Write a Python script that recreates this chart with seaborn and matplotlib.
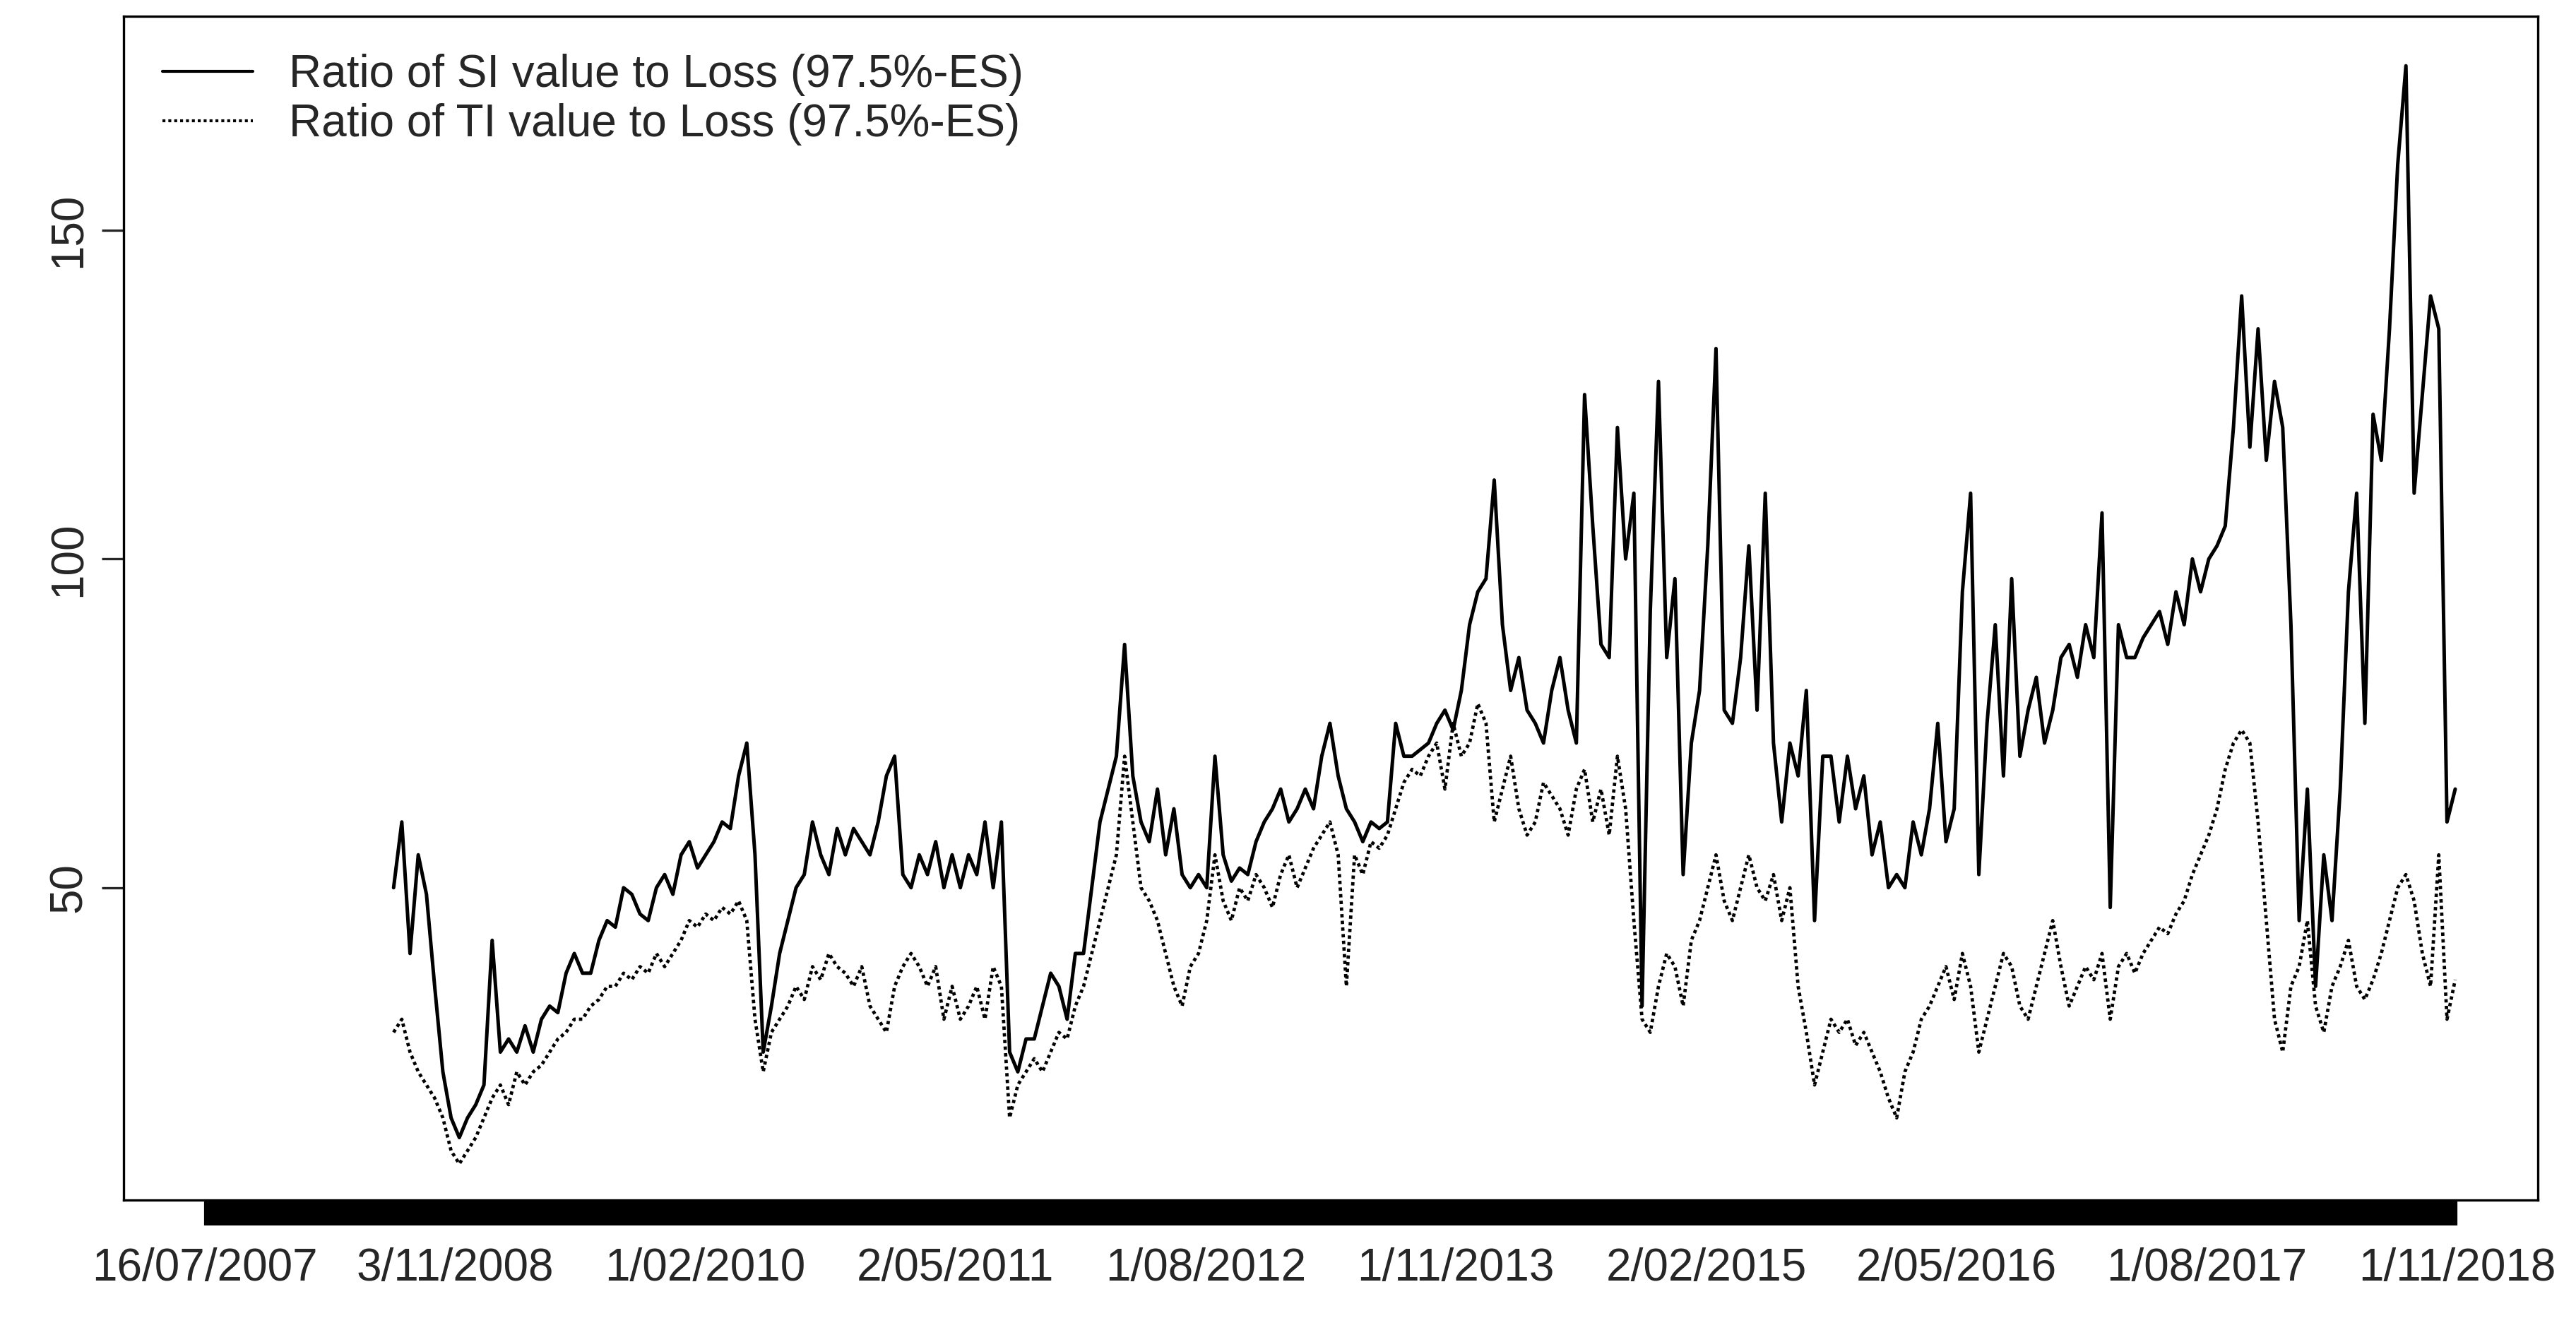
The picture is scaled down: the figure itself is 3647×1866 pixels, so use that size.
import numpy as np
import pandas as pd
import matplotlib
matplotlib.use("Agg")
import matplotlib.pyplot as plt
import seaborn as sns

date_labels = ["16/07/2007", "3/11/2008", "1/02/2010", "2/05/2011", "1/08/2012",
               "1/11/2013", "2/02/2015", "2/05/2016", "1/08/2017", "1/11/2018"]
label_every = 326
n_days = 9 * label_every
first_obs = 246
obs_step = 10.7

si = [50, 60, 40, 55, 49, 35, 22, 15, 12, 15, 17, 20, 42, 25, 27, 25, 29, 25, 30, 32,
      31, 37, 40, 37, 37, 42, 45, 44, 50, 49, 46, 45, 50, 52, 49, 55, 57, 53, 55, 57,
      60, 59, 67, 72, 55, 25, 32, 40, 45, 50, 52, 60, 55, 52, 59, 55, 59, 57, 55, 60,
      67, 70, 52, 50, 55, 52, 57, 50, 55, 50, 55, 52, 60, 50, 60, 25, 22, 27, 27, 32,
      37, 35, 30, 40, 40, 50, 60, 65, 70, 87, 67, 60, 57, 65, 55, 62, 52, 50, 52, 50,
      70, 55, 51, 53, 52, 57, 60, 62, 65, 60, 62, 65, 62, 70, 75, 67, 62, 60, 57, 60,
      59, 60, 75, 70, 70, 71, 72, 75, 77, 74, 80, 90, 95, 97, 112, 90, 80, 85, 77, 75,
      72, 80, 85, 77, 72, 125, 105, 87, 85, 120, 100, 110, 32, 92, 127, 85, 97, 52, 72, 80,
      102, 132, 77, 75, 85, 102, 77, 110, 72, 60, 72, 67, 80, 45, 70, 70, 60, 70, 62, 67,
      55, 60, 50, 52, 50, 60, 55, 62, 75, 57, 62, 95, 110, 52, 75, 90, 67, 97, 70, 77,
      82, 72, 77, 85, 87, 82, 90, 85, 107, 47, 90, 85, 85, 88, 90, 92, 87, 95, 90, 100,
      95, 100, 102, 105, 120, 140, 117, 135, 115, 127, 120, 90, 45, 65, 35, 55, 45, 65, 95, 110,
      75, 122, 115, 135, 160, 175, 110, 125, 140, 135, 60, 65]

ti = [28, 30, 25, 22, 20, 18, 15, 10, 8, 10, 12, 15, 18, 20, 17, 22, 20, 22, 23, 25,
      27, 28, 30, 30, 32, 33, 35, 35, 37, 36, 38, 37, 40, 38, 40, 42, 45, 44, 46, 45,
      47, 46, 48, 45, 30, 22, 28, 30, 32, 35, 33, 38, 36, 40, 38, 37, 35, 38, 32, 30,
      28, 35, 38, 40, 38, 35, 38, 30, 35, 30, 32, 35, 30, 38, 35, 15, 20, 22, 24, 22,
      25, 28, 27, 32, 35, 40, 45, 50, 55, 70, 60, 50, 48, 45, 40, 35, 32, 38, 40, 45,
      55, 48, 45, 50, 48, 52, 50, 47, 52, 55, 50, 53, 56, 58, 60, 55, 35, 55, 52, 57,
      56, 58, 62, 66, 68, 67, 70, 72, 65, 75, 70, 72, 78, 75, 60, 65, 70, 62, 58, 60,
      66, 64, 62, 58, 65, 68, 60, 65, 58, 70, 62, 45, 30, 28, 35, 40, 38, 32, 42, 45,
      50, 55, 48, 45, 50, 55, 50, 48, 52, 45, 50, 35, 28, 20, 25, 30, 28, 30, 26, 28,
      25, 22, 18, 15, 22, 25, 30, 32, 35, 38, 33, 40, 35, 25, 30, 35, 40, 38, 32, 30,
      35, 40, 45, 38, 32, 35, 38, 36, 40, 30, 38, 40, 37, 40, 42, 44, 43, 46, 48, 52,
      55, 58, 62, 68, 72, 74, 72, 60, 45, 30, 25, 35, 38, 45, 32, 28, 35, 38, 42, 35,
      33, 36, 40, 45, 50, 52, 48, 40, 35, 55, 30, 36]

m = min(len(si), len(ti))
si, ti = si[:m], ti[:m]
obs = first_obs + obs_step * np.arange(m)
df = pd.DataFrame({"obs": obs, "si": si, "ti": ti})

sns.set_style("ticks")
plt.rcParams["font.family"] = ["Liberation Sans", "DejaVu Sans"]
fig = plt.figure(figsize=(36.48, 18.66), dpi=100)
ax = fig.add_axes([0.048, 0.0895, 0.937, 0.898])

sns.lineplot(data=df, x="obs", y="si", ax=ax, color="black", lw=3.6,
             label="Ratio of SI value to Loss (97.5%-ES)")
sns.lineplot(data=df, x="obs", y="ti", ax=ax, color="black", lw=3.4,
             linestyle=(0, (1, 1.0)), label="Ratio of TI value to Loss (97.5%-ES)")

pad = 0.036 * n_days
ax.set_xlim(-pad, n_days + pad)
ax.set_ylim(2.5, 182.5)
ax.set_xlabel("")
ax.set_ylabel("")

ax.set_xticks(np.arange(0, n_days + 1, label_every))
ax.set_xticklabels(date_labels)
ax.set_xticks(np.arange(0, n_days + 1, 1), minor=True)
ax.tick_params(axis="x", which="both", length=26, width=1.6, color="black",
               labelsize=46, pad=22)
ax.set_yticks([50, 100, 150])
ax.tick_params(axis="y", length=22, width=2.4, labelsize=46, pad=12)
for t in ax.get_yticklabels():
    t.set_rotation(90)
    t.set_va("center")

for s in ax.spines.values():
    s.set_linewidth(2.4)
    s.set_color("black")

leg = ax.legend(loc="upper left", frameon=False, fontsize=46, handlelength=2.0,
                handletextpad=0.8, borderaxespad=0.3, labelspacing=0.15,
                bbox_to_anchor=(0.003, 0.995))
for h in leg.get_lines():
    h.set_linewidth(3.0)

fig.savefig("out.png", dpi=100)
